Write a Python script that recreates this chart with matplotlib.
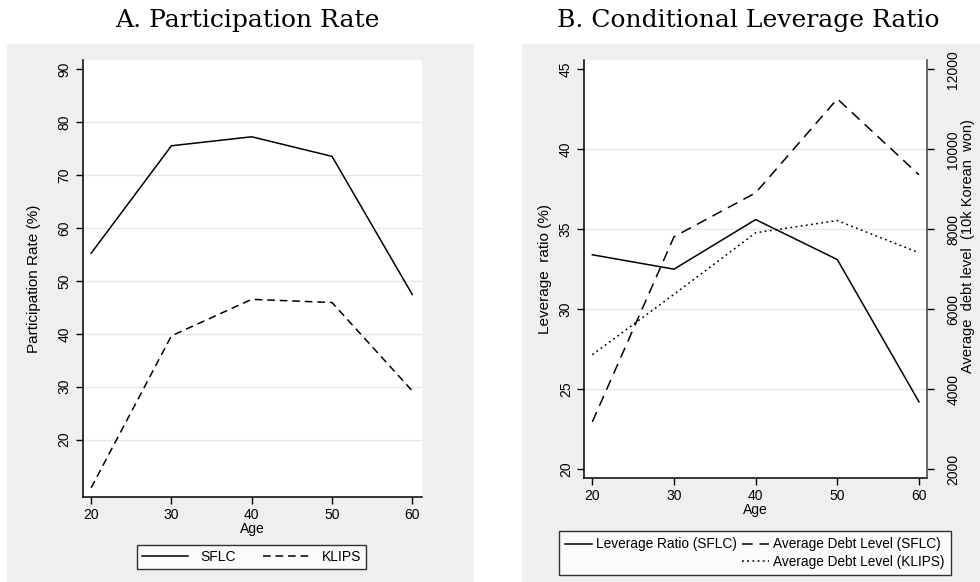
import matplotlib
matplotlib.use("Agg")
import matplotlib.pyplot as plt
from matplotlib.patches import Rectangle
from matplotlib.lines import Line2D

ages = [20, 30, 40, 50, 60]
part_sflc = [55.2, 75.5, 77.2, 73.5, 47.4]
part_klips = [10.9, 39.6, 46.5, 45.9, 29.2]
lev_sflc = [33.4, 32.5, 35.6, 33.1, 24.2]
debt_sflc = [3180, 7810, 8910, 11260, 9360]
debt_klips = [4860, 6370, 7910, 8215, 7410]

left_yticks = [20, 30, 40, 50, 60, 70, 80, 90]
right_yticks = [20, 25, 30, 35, 40, 45]
debt_ticks = [2000, 4000, 6000, 8000, 10000, 12000]

plt.rcParams['font.family'] = ['Liberation Sans', 'DejaVu Sans']

W, H = 980, 582
fig = plt.figure(figsize=(W / 100, H / 100), dpi=100)
fig.patch.set_facecolor('white')

gray = '#efefef'
fig.patches.append(Rectangle((7 / W, 0), (474 - 7) / W, 1 - 44 / H,
                             transform=fig.transFigure, facecolor=gray, edgecolor='none', zorder=-10))
fig.patches.append(Rectangle((522 / W, 0), (980 - 522) / W, 1 - 44 / H,
                             transform=fig.transFigure, facecolor=gray, edgecolor='none', zorder=-10))

def axrect(x0, x1, y0, y1):
    return [x0 / W, 1 - y1 / H, (x1 - x0) / W, (y1 - y0) / H]

tick_fs = 10
lab_fs = 11

# ---------- Panel A ----------
ax1 = fig.add_axes(axrect(82.7, 421.7, 60, 497))
ax1.set_facecolor('white')
ax1.plot(ages, part_sflc, color='black', lw=1.1, label='SFLC')
ax1.plot(ages, part_klips, color='black', lw=1.1, dashes=(5, 3.2), label='KLIPS')
ax1.set_xlim(18.95, 61.17)
ax1.set_ylim(9.17, 91.7)
ax1.set_xticks(ages)
ax1.set_yticks(left_yticks)
ax1.yaxis.grid(True, color='#e6e6e6', lw=1.0)
ax1.set_axisbelow(True)
for gl, t in zip(ax1.get_ygridlines(), left_yticks):
    if t == 90:
        gl.set_visible(False)
for s in ['top', 'right']:
    ax1.spines[s].set_visible(False)
for s in ['left', 'bottom']:
    ax1.spines[s].set_linewidth(1.1)
ax1.tick_params(axis='both', direction='out', length=5, width=1, labelsize=tick_fs, pad=3)
for lbl in ax1.get_yticklabels():
    lbl.set_rotation(90)
    lbl.set_va('center')
ax1.set_xlabel('Age', fontsize=tick_fs, labelpad=0)
ax1.set_ylabel('Participation Rate (%)', fontsize=lab_fs, labelpad=12)
leg1 = ax1.legend(loc='center', bbox_to_anchor=(251.5 / W, 1 - 557 / H),
                  bbox_transform=fig.transFigure, ncol=2, fontsize=tick_fs,
                  frameon=True, fancybox=False, edgecolor='black', handlelength=3.3,
                  columnspacing=2.0, borderpad=0.35, handletextpad=0.9)
leg1.get_frame().set_linewidth(1.0)

fig.text(247 / W, 1 - 20 / H, 'A. Participation Rate', ha='center', va='center',
         fontsize=18, family='DejaVu Serif')

# ---------- Panel B ----------
ax2 = fig.add_axes(axrect(584, 927, 60, 478))
ax2.set_facecolor('white')
ax3 = ax2.twinx()
l1, = ax2.plot(ages, lev_sflc, color='black', lw=1.1, label='Leverage Ratio (SFLC)')
l2, = ax3.plot(ages, debt_sflc, color='black', lw=1.1, dashes=(7, 4.5), label='Average Debt Level (SFLC)')
l3, = ax3.plot(ages, debt_klips, color='black', lw=1.1, dashes=(1.2, 2.2), label='Average Debt Level (KLIPS)')
ax2.set_xlim(18.98, 60.98)
ylo, yhi = 19.44, 45.58
ax2.set_ylim(ylo, yhi)
ax3.set_ylim(2000 + (ylo - 20) * 400, 2000 + (yhi - 20) * 400)
ax2.set_xticks(ages)
ax2.set_yticks(right_yticks)
ax3.set_yticks(debt_ticks)
ax2.yaxis.grid(True, color='#e6e6e6', lw=1.0)
ax2.set_axisbelow(True)
for gl, t in zip(ax2.get_ygridlines(), right_yticks):
    if t in (20, 45):
        gl.set_visible(False)
for a in (ax2, ax3):
    a.spines['top'].set_visible(False)
ax2.spines['right'].set_visible(False)
ax3.spines['left'].set_visible(False)
ax3.spines['bottom'].set_visible(False)
ax2.spines['left'].set_linewidth(1.1)
ax2.spines['bottom'].set_linewidth(1.1)
ax3.spines['right'].set_linewidth(1.1)
ax3.spines['right'].set_color('#444444')
ax2.tick_params(axis='both', direction='out', length=5, width=1, labelsize=tick_fs, pad=3)
ax3.tick_params(axis='y', direction='out', length=5, width=1, labelsize=tick_fs, pad=9)
for lbl in ax2.get_yticklabels():
    lbl.set_rotation(90)
    lbl.set_va('center')
for lbl in ax3.get_yticklabels():
    lbl.set_rotation(90)
    lbl.set_va('center')
ax2.set_xlabel('Age', fontsize=tick_fs, labelpad=0)
ax2.set_ylabel('Leverage  ratio (%)', fontsize=lab_fs, labelpad=5)
ax3.set_ylabel('Average  debt level  (10k Korean  won)', fontsize=10.5, labelpad=0)
ax3.yaxis.set_label_coords(1.099, 0.555)

blank = Line2D([], [], color='none')
leg2 = ax2.legend([l1, blank, l2, l3],
                  ['Leverage Ratio (SFLC)', '', 'Average Debt Level (SFLC)', 'Average Debt Level (KLIPS)'],
                  loc='center', bbox_to_anchor=(755 / W, 1 - 553 / H),
                  bbox_transform=fig.transFigure, ncol=2, fontsize=9.8,
                  frameon=True, fancybox=False, edgecolor='black', handlelength=2.0,
                  columnspacing=0.35, borderpad=0.45, handletextpad=0.3, labelspacing=0.25)
leg2.get_frame().set_linewidth(1.0)

fig.text(748 / W, 1 - 20 / H, 'B. Conditional Leverage Ratio', ha='center', va='center',
         fontsize=18, family='DejaVu Serif')

fig.savefig('out.png', dpi=100, facecolor='white')
